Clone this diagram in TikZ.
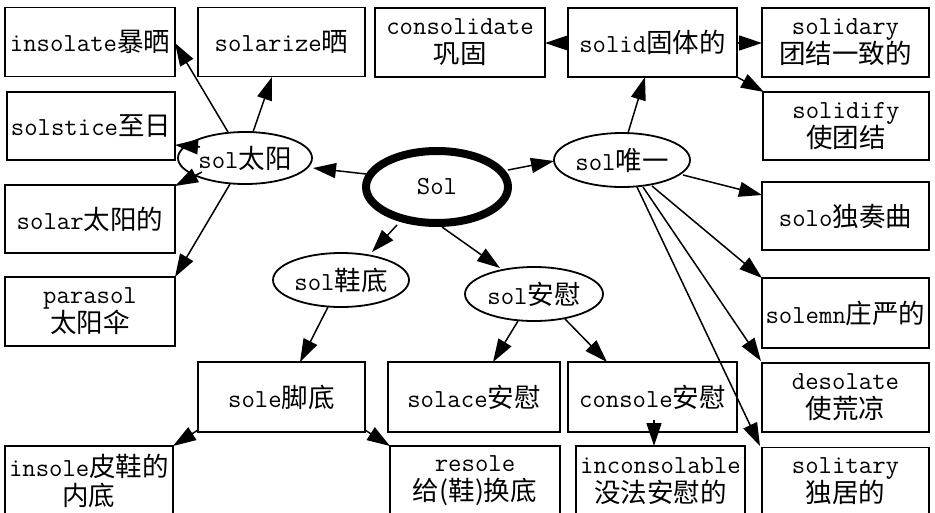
\documentclass[tikz,border=0pt]{standalone}
\usepackage{fontspec}
\newfontfamily\cjk[Scale=1.02]{Noto Sans CJK SC}
\usetikzlibrary{arrows.meta,shapes.geometric,calc}
\newcommand\zhtxt[1]{{\cjk #1}}
\begin{document}
\begin{tikzpicture}[x=1pt,y=-1pt,
  box/.style={draw,line width=1.9pt,inner sep=0pt,align=center,minimum height=69pt},
  ell/.style={draw,ellipse,line width=1.8pt,inner sep=0pt},
  arr/.style={line width=1.5pt,-{Triangle[length=23pt,width=15pt]}},
  font=\fontsize{26}{29}\selectfont\ttfamily]
\useasboundingbox (0,0) rectangle (935,512);
\clip (0,0) rectangle (935,512);
% top row
\node[box,minimum width=170pt] (insolate) at (90,42) {insolate\zhtxt{暴晒}};
\node[box,minimum width=167pt] (solarize) at (281.5,42) {solarize\zhtxt{晒}};
\node[box,minimum width=170pt] (consolidate) at (460,42.5) {consolidate\\\zhtxt{巩固}};
\node[box,minimum width=169pt] (solid) at (652.5,42.5) {solid\zhtxt{固体的}};
\node[box,minimum width=167pt] (solidary) at (845.5,42.5) {solidary\\\zhtxt{团结一致的}};
\node[box,minimum width=166pt,minimum height=68pt] (solidify) at (846,126) {solidify\\\zhtxt{使团结}};
% left column
\node[box,minimum width=168pt,minimum height=68pt] (solstice) at (91,126) {solstice\zhtxt{至日}};
\node[box,minimum width=170pt,minimum height=68pt] (solar) at (90,219) {solar\zhtxt{太阳的}};
\node[box,minimum width=170pt] (parasol) at (90,311.5) {parasol\\\zhtxt{太阳伞}};
% ellipses
\node[ell,minimum width=134pt,minimum height=52pt] (sun) at (245,158) {sol\zhtxt{太阳}};
\node[ell,line width=8pt,minimum width=142pt,minimum height=72pt] (Sol) at (437,187) {Sol};
\node[ell,minimum width=136pt,minimum height=54pt] (uniq) at (622,160) {sol\zhtxt{唯一}};
\node[ell,minimum width=136pt,minimum height=54pt] (shoe) at (341,280) {sol\zhtxt{鞋底}};
\node[ell,minimum width=138pt,minimum height=54pt] (comfort) at (534,294) {sol\zhtxt{安慰}};
% right column
\node[box,minimum width=167pt,minimum height=68pt] (solo) at (845.5,216) {solo\zhtxt{独奏曲}};
\node[box,minimum width=167pt,minimum height=70pt] (solemn) at (845.5,313) {solemn\zhtxt{庄严的}};
\node[box,minimum width=167pt] (desolate) at (845.5,397.5) {desolate\\\zhtxt{使荒凉}};
\node[box,minimum width=167pt,minimum height=68pt] (solitary) at (845.5,481.5) {solitary\\\zhtxt{独居的}};
% middle row
\node[box,minimum width=167pt,minimum height=70pt] (sole) at (281.5,397) {sole\zhtxt{脚底}};
\node[box,minimum width=172pt,minimum height=70pt] (solace) at (474,397) {solace\zhtxt{安慰}};
\node[box,minimum width=169pt,minimum height=70pt] (console) at (652.5,397) {console\zhtxt{安慰}};
% bottom row
\node[box,minimum width=168pt,minimum height=70pt] (insole) at (89,481) {insole\zhtxt{皮鞋的}\\\zhtxt{内底}};
\node[box,minimum width=170pt,minimum height=70pt] (resole) at (475,481) {resole\\\zhtxt{给(鞋)换底}};
\node[box,minimum width=169pt,minimum height=70pt] (inconsolable) at (660.5,481) {inconsolable\\\zhtxt{没法安慰的}};
% edges
\draw[arr] ($(Sol)+(-71,-13)$) -- ($(sun)+(68,10)$);
\draw[arr] ($(Sol)+(71,-17)$) -- ($(uniq)+(-68,1)$);
\draw[arr] ($(Sol)+(-40,38)$) -- ($(shoe)+(31,-28)$);
\draw[arr] ($(Sol)+(5,40)$) -- ($(comfort)+(-34,-26)$);
\draw[arr] ($(sun)+(-17,-26)$) -- ($(insolate)+(85,1)$);
\draw[arr] ($(sun)+(8,-26)$) -- ($(solarize)+(-9.5,35)$);
\draw[arr] ($(sun)+(-45,-11)$) -- ($(solstice)+(84,19)$);
\draw[arr] ($(sun)+(-43,14)$) -- ($(solar)+(85,-33)$);
\draw[arr] ($(sun)+(-15,26)$) -- ($(parasol)+(85,-34.5)$);
\draw[arr] ($(uniq)+(6,-27)$) -- ($(solid)+(-7.5,34.5)$);
\draw[arr] ($(solid)+(-84.5,0.5)$) -- ($(consolidate)+(85,0.5)$);
\draw[arr] ($(solid)+(84.5,0.5)$) -- ($(solidary)+(-83.5,0.5)$);
\draw[arr] ($(solid)+(84.5,34.5)$) -- ($(solidify)+(-82,-34)$);
\draw[arr] ($(uniq)+(61,15)$) -- ($(solo)+(-83.5,-21)$);
\draw[arr] ($(uniq)+(30,26)$) -- ($(solemn)+(-83.5,-35)$);
\draw[arr] ($(uniq)+(21,27)$) -- ($(desolate)+(-84.5,-36.5)$);
\draw[arr] ($(uniq)+(15,27)$) -- ($(solitary)+(-85.5,-35.5)$);
\draw[arr] ($(shoe)+(-13,27)$) -- ($(sole)+(18.5,-35)$);
\draw[arr] ($(comfort)+(-16,27)$) -- ($(solace)+(19,-35)$);
\draw[arr] ($(comfort)+(31,25)$) -- ($(console)+(-45.5,-35)$);
\draw[arr] ($(sole)+(-83.5,33)$) -- ($(insole)+(84,-35)$);
\draw[arr] ($(sole)+(83.5,33)$) -- ($(resole)+(-85,-35)$);
\draw[arr] ($(console)+(1.5,23)$) -- ($(inconsolable)+(-6.5,-35)$);
\end{tikzpicture}
\end{document}
